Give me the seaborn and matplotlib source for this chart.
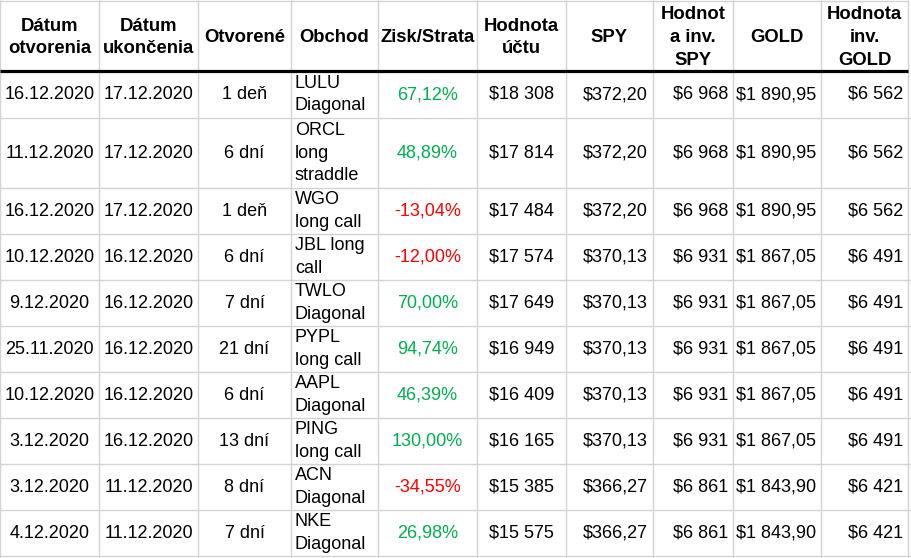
import matplotlib
matplotlib.use("Agg")
import matplotlib.pyplot as plt
import seaborn as sns

# ---- data ----
headers = ["Dátum\notvorenia", "Dátum\nukončenia", "Otvorené", "Obchod", "Zisk/Strata",
           "Hodnota\núčtu", "SPY", "Hodnot\na inv.\nSPY", "GOLD", "Hodnota\ninv.\nGOLD"]
open_dates = ["16.12.2020", "11.12.2020", "16.12.2020", "10.12.2020", "9.12.2020",
              "25.11.2020", "10.12.2020", "3.12.2020", "3.12.2020", "4.12.2020"]
close_dates = ["17.12.2020", "17.12.2020", "17.12.2020", "16.12.2020", "16.12.2020",
               "16.12.2020", "16.12.2020", "16.12.2020", "11.12.2020", "11.12.2020"]
durations = ["1 deň", "6 dní", "1 deň", "6 dní", "7 dní", "21 dní", "6 dní", "13 dní", "8 dní", "7 dní"]
trades = ["LULU\nDiagonal", "ORCL\nlong\nstraddle", "WGO\nlong call", "JBL long\ncall",
          "TWLO\nDiagonal", "PYPL\nlong call", "AAPL\nDiagonal", "PING\nlong call",
          "ACN\nDiagonal", "NKE\nDiagonal"]
pnl_pct = [67.12, 48.89, -13.04, -12.00, 70.00, 94.74, 46.39, 130.00, -34.55, 26.98]
account_value = [18308, 17814, 17484, 17574, 17649, 16949, 16409, 16165, 15385, 15575]
spy_price = [372.20, 372.20, 372.20, 370.13, 370.13, 370.13, 370.13, 370.13, 366.27, 366.27]
spy_inv_value = [6968, 6968, 6968, 6931, 6931, 6931, 6931, 6931, 6861, 6861]
gold_price = [1890.95, 1890.95, 1890.95, 1867.05, 1867.05, 1867.05, 1867.05, 1867.05, 1843.90, 1843.90]
gold_inv_value = [6562, 6562, 6562, 6491, 6491, 6491, 6491, 6491, 6421, 6421]

# ---- layout ----
col_edges = [0, 99, 198, 291, 378, 477, 566, 653, 733, 821, 908]
header_h = 70
row_heights = [47, 70, 46, 46, 46, 46, 46, 46, 46, 46]
col_align = ["center", "center", "center", "left", "center", "center", "right", "right", "right", "right"]


def fmt_int_money(v):
    return "$" + f"{v:,}".replace(",", " ")


def fmt_dec_money(v):
    s = f"{v:,.2f}"
    return "$" + s.replace(",", " ").replace(".", ",")


def fmt_pct(v):
    return f"{v:.2f}".replace(".", ",") + "%"


sns.set_theme(style="white")
plt.rcParams["font.family"] = ["Liberation Sans", "DejaVu Sans"]

W, H = 912, 558
fig = plt.figure(figsize=(W / 100, H / 100), dpi=100)
ax = fig.add_axes([0, 0, 1, 1])
ax.set_xlim(0, W)
ax.set_ylim(H, 0)
ax.axis("off")

grid_c = "#d3d3d3"
row_edges = [header_h]
for h in row_heights:
    row_edges.append(row_edges[-1] + h)

# grid lines
for x in col_edges:
    ax.vlines(x + 0.5, 0, H, color=grid_c, lw=1.0)
ax.hlines(0.5, 0, col_edges[-1], color=grid_c, lw=1.0)
for y in row_edges[1:]:
    ax.hlines(y + 0.5, 0, W, color=grid_c, lw=1.0)
ax.hlines(header_h + 0.5, 0, col_edges[-1], color="black", lw=2.3)

fs = 13
PAD = 5


def put(text, c, y0, y1, align, color="black", weight="normal", ls=1.42, size=fs, dy=1):
    if align == "center":
        x = (col_edges[c] + col_edges[c + 1]) / 2
    elif align == "left":
        x = col_edges[c] + 4
    else:
        x = col_edges[c + 1] - PAD
    ax.text(x, (y0 + y1) / 2 + dy, text, ha=align, va="center", fontsize=size, color=color,
            fontweight=weight, linespacing=ls, multialignment="left" if align == "left" else "center")


# header
for c, htxt in enumerate(headers):
    put(htxt, c, 0, header_h, "center", weight="bold", ls=1.46, size=13.3, dy=2.5)

green = "#00b050"
red = "#ff0000"
for r in range(len(open_dates)):
    y0, y1 = row_edges[r], row_edges[r + 1]
    cells = [open_dates[r], close_dates[r], durations[r], trades[r], fmt_pct(pnl_pct[r]),
             fmt_int_money(account_value[r]), fmt_dec_money(spy_price[r]),
             fmt_int_money(spy_inv_value[r]), fmt_dec_money(gold_price[r]),
             fmt_int_money(gold_inv_value[r])]
    for c, t in enumerate(cells):
        color = "black"
        if c == 4:
            color = green if pnl_pct[r] >= 0 else red
        put(t, c, y0, y1, col_align[c], color=color)

fig.savefig("out.png", dpi=100, facecolor="white")
